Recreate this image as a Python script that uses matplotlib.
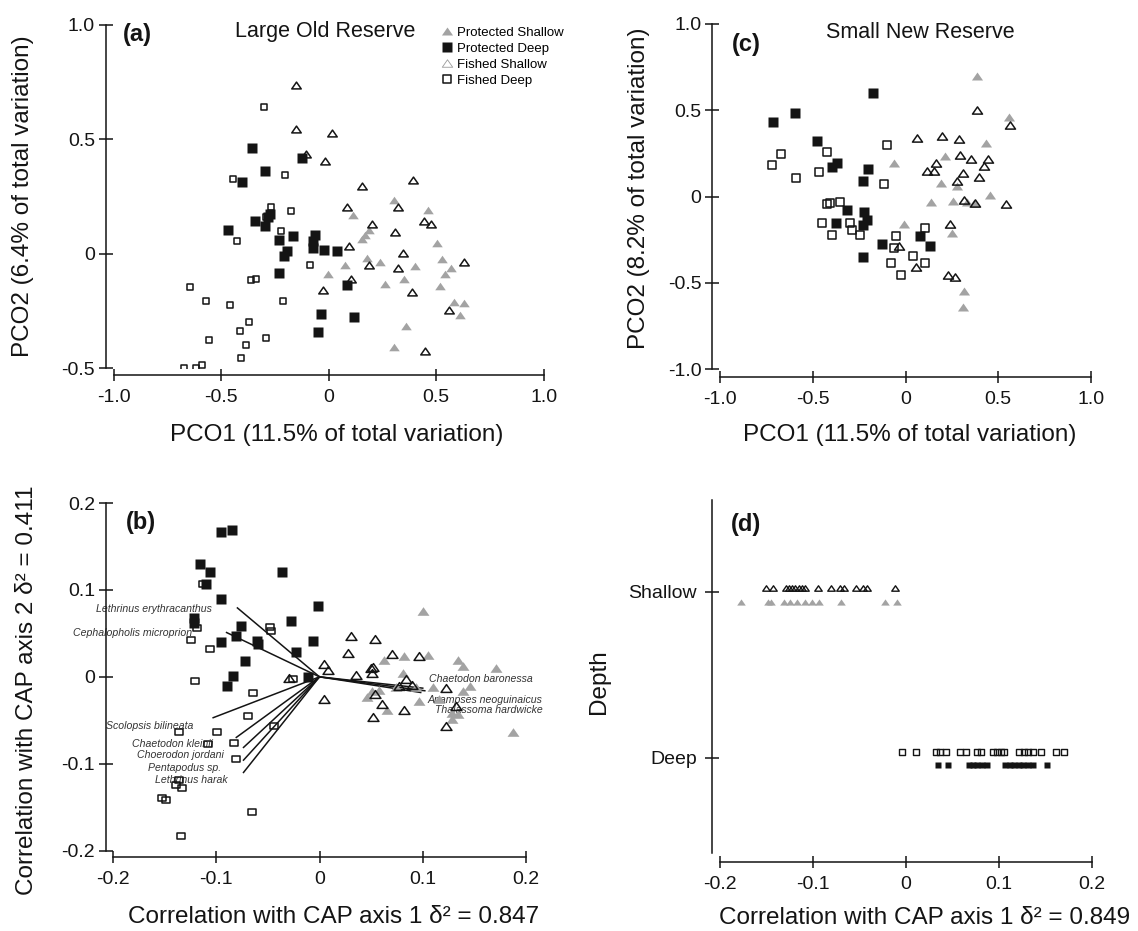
import matplotlib
matplotlib.use("Agg")
import matplotlib.pyplot as plt
from matplotlib.lines import Line2D
from matplotlib.path import Path

W, H, DPI = 1138, 931, 100
plt.rcParams["font.family"] = ["Liberation Sans", "DejaVu Sans"]

GREY = "#a3a3a3"
INK = "#141414"

# ---------------- (a) Large Old Reserve, PCO ----------------
a_ps_x = [0.305, 0.462, 0.113, 0.153, 0.169, 0.188, 0.502, 0.075, 0.179, 0.238, -0.003, 0.262,
          0.352, 0.399, 0.528, 0.568, 0.543, 0.518, 0.585, 0.628, 0.610, 0.360, 0.304]
a_ps_y = [0.233, 0.192, 0.170, 0.065, 0.084, 0.102, 0.047, -0.047, -0.017, -0.035, -0.090, -0.131,
          -0.110, -0.055, -0.022, -0.061, -0.090, -0.142, -0.211, -0.215, -0.266, -0.317, -0.407]
a_pd_x = [-0.357, -0.125, -0.299, -0.404, -0.274, -0.285, -0.344, -0.299, -0.470, -0.166, -0.233, -0.066,
          -0.073, -0.073, -0.194, -0.208, -0.023, 0.037, -0.234, 0.086, -0.037, 0.116, -0.050]
a_pd_y = [0.461, 0.419, 0.360, 0.313, 0.174, 0.160, 0.142, 0.121, 0.102, 0.078, 0.062, 0.083,
          0.055, 0.026, 0.012, -0.010, 0.017, 0.010, -0.084, -0.138, -0.265, -0.276, -0.342]
a_fs_x = [-0.154, -0.154, 0.017, -0.108, -0.017, 0.154, 0.394, 0.083, 0.324, 0.199, 0.444, 0.478,
          0.307, 0.095, 0.346, 0.186, 0.321, 0.628, 0.103, -0.028, 0.387, 0.560, 0.449]
a_fs_y = [0.738, 0.545, 0.526, 0.436, 0.403, 0.298, 0.320, 0.206, 0.203, 0.131, 0.142, 0.131,
          0.094, 0.036, 0.004, -0.047, -0.061, -0.036, -0.109, -0.160, -0.167, -0.247, -0.424]
a_fd_x = [-0.304, -0.444, -0.204, -0.271, -0.291, -0.178, -0.224, -0.429, -0.088, -0.362, -0.337, -0.648,
          -0.573, -0.460, -0.213, -0.370, -0.412, -0.560, -0.291, -0.387, -0.407, -0.676, -0.620, -0.590]
a_fd_y = [0.642, 0.327, 0.342, 0.203, 0.160, 0.186, 0.099, 0.054, -0.047, -0.113, -0.109, -0.145,
          -0.206, -0.225, -0.206, -0.298, -0.337, -0.375, -0.366, -0.397, -0.455, -0.497, -0.497, -0.484]

# ---------------- (c) Small New Reserve, PCO ----------------
c_ps_x = [0.387, 0.560, 0.435, 0.212, -0.065, 0.192, 0.278, 0.139, 0.258, 0.331, 0.454, -0.006,
          0.248, 0.315, 0.312, 0.371]
c_ps_y = [0.698, 0.462, 0.313, 0.237, 0.192, 0.079, 0.063, -0.033, -0.027, -0.033, 0.006, -0.158,
          -0.210, -0.546, -0.642, -0.037]
c_pd_x = [-0.175, -0.597, -0.716, -0.478, -0.369, -0.397, -0.204, -0.230, -0.317, -0.224, -0.377,
          -0.210, -0.230, -0.129, 0.079, 0.133, -0.230]
c_pd_y = [0.602, 0.483, 0.429, 0.323, 0.194, 0.169, 0.160, 0.088, -0.081, -0.090, -0.154,
          -0.138, -0.167, -0.277, -0.231, -0.288, -0.350]
c_fs_x = [0.387, 0.563, 0.063, 0.198, 0.286, 0.292, 0.351, 0.444, 0.163, 0.425, 0.113, 0.153,
          0.308, 0.395, 0.276, 0.315, 0.375, 0.544, 0.242, -0.036, 0.058, 0.228, 0.268]
c_fs_y = [0.500, 0.413, 0.342, 0.352, 0.333, 0.242, 0.217, 0.217, 0.194, 0.179, 0.146, 0.150,
          0.137, 0.115, 0.087, -0.019, -0.037, -0.046, -0.158, -0.288, -0.408, -0.456, -0.469]
c_fd_x = [-0.720, -0.675, -0.591, -0.423, -0.468, -0.099, -0.119, -0.423, -0.409, -0.353, -0.452,
          -0.397, -0.300, -0.288, -0.244, -0.052, -0.065, 0.103, 0.040, 0.103, -0.081, -0.026]
c_fd_y = [0.185, 0.246, 0.108, 0.256, 0.140, 0.300, 0.073, -0.042, -0.037, -0.029, -0.154,
          -0.221, -0.152, -0.192, -0.225, -0.229, -0.296, -0.181, -0.346, -0.383, -0.388, -0.456]

# ---------------- (b) CAP, Large Old Reserve ----------------
b_ps_x = [0.1007, 0.105, 0.082, 0.062, 0.134, 0.139, 0.171, 0.081, 0.110, 0.146, 0.139, 0.093,
          0.046, 0.051, 0.058, 0.065, 0.0965, 0.116, 0.128, 0.134, 0.128, 0.187, 0.074]
b_ps_y = [0.076, 0.025, 0.024, 0.019, 0.019, 0.013, 0.010, 0.004, -0.012, -0.010, -0.016, -0.012,
          -0.023, -0.016, -0.015, -0.038, -0.028, -0.025, -0.042, -0.043, -0.048, -0.064, -0.012]
b_pd_x = [-0.0955, -0.0851, -0.116, -0.106, -0.110, -0.0365, -0.0955, -0.001, -0.122, -0.122, -0.076,
          -0.028, -0.081, -0.061, -0.060, -0.0955, -0.0226, -0.006, -0.072, -0.084, -0.090, -0.011]
b_pd_y = [0.167, 0.169, 0.130, 0.121, 0.107, 0.121, 0.089, 0.082, 0.068, 0.062, 0.059,
          0.064, 0.047, 0.041, 0.038, 0.040, 0.029, 0.041, 0.018, 0.001, -0.010, 0.000]
b_fs_x = [0.0306, 0.054, 0.028, 0.070, 0.0965, 0.0045, 0.008, 0.035, 0.050, 0.052, 0.051, -0.0295,
          0.084, 0.077, 0.1226, 0.054, 0.061, 0.0045, 0.082, 0.132, 0.052, 0.1226, 0.0896]
b_fs_y = [0.047, 0.044, 0.028, 0.026, 0.024, 0.015, 0.008, 0.002, 0.010, 0.011, 0.005, -0.001,
          -0.002, -0.010, -0.013, -0.020, -0.031, -0.026, -0.038, -0.034, -0.046, -0.056, -0.009]
b_fd_x = [-0.1125, -0.0476, -0.047, -0.119, -0.124, -0.106, -0.121, -0.026, -0.064, -0.069, -0.044,
          -0.099, -0.136, -0.108, -0.083, -0.0806, -0.136, -0.139, -0.133, -0.153, -0.149, -0.065, -0.134]
b_fd_y = [0.107, 0.057, 0.053, 0.056, 0.042, 0.032, -0.005, -0.002, -0.019, -0.045, -0.056,
          -0.063, -0.064, -0.077, -0.076, -0.094, -0.119, -0.124, -0.128, -0.139, -0.142, -0.155, -0.183]

species = ["Lethrinus erythracanthus", "Cephalopholis microprion", "Scolopsis bilineata",
           "Chaetodon kleinii", "Choerodon jordani", "Pentapodus sp.", "Lethrinus harak",
           "Chaetodon baronessa", "Anampses neoguinaicus", "Thalassoma hardwicke"]
vec_x = [-0.0795, -0.090, -0.103, -0.0806, -0.0736, -0.0736, -0.0736, 0.100, 0.102, 0.098]
vec_y = [0.0793, 0.051, -0.047, -0.0697, -0.0812, -0.0958, -0.110, -0.013, -0.016, -0.018]
# where each species name sits (left edge, centre line), in axis units
label_at = [(-0.216, 0.0776), (-0.239, 0.050), (-0.207, -0.0564), (-0.182, -0.0774),
            (-0.177, -0.090), (-0.166, -0.1054), (-0.159, -0.119),
            (0.1056, -0.0026), (0.105, -0.0268), (0.112, -0.0383)]

# ---------------- (d) CAP, Small New Reserve ----------------
depth_levels = ["Deep", "Shallow"]
d_fs_x = [-0.1507, -0.1436, -0.1299, -0.1264, -0.1227, -0.1192, -0.1156, -0.1119, -0.1084, -0.0952,
          -0.0812, -0.0707, -0.0664, -0.0535, -0.0467, -0.0420, -0.0118]
d_ps_x = [-0.1777, -0.1487, -0.1452, -0.1313, -0.1253, -0.1174, -0.1094, -0.1010, -0.0935, -0.0706,
          -0.0229, -0.0102]
d_fd_x = [-0.004, 0.0107, 0.0317, 0.0364, 0.0424, 0.0582, 0.0642, 0.0760, 0.0808, 0.0939, 0.0978,
          0.1018, 0.1057, 0.1216, 0.1267, 0.1315, 0.1362, 0.1453, 0.1612, 0.1703]
d_pd_x = [0.0345, 0.0455, 0.0673, 0.0721, 0.0768, 0.0820, 0.0867, 0.1061, 0.1113, 0.1164, 0.1216,
          0.1263, 0.1315, 0.1362, 0.1513]

groups = ["Protected Shallow", "Protected Deep", "Fished Shallow", "Fished Deep"]


def closed(verts):
    return Path(verts + [verts[0]], closed=True)


TRI = closed([(-1, -0.72), (1, -0.72), (0, 0.72)])
BOX = closed([(-1, -1), (1, -1), (1, 1), (-1, 1)])
RECT = closed([(-1, -0.78), (1, -0.78), (1, 0.78), (-1, 0.78)])


def px(x, y):
    return x / W, 1 - y / H


def frame(ax, left_off, bottom_off):
    for s in ("top", "right"):
        ax.spines[s].set_visible(False)
    ax.spines["left"].set_position(("outward", left_off * 0.72))
    ax.spines["bottom"].set_position(("outward", bottom_off * 0.72))
    for s in ("left", "bottom"):
        ax.spines[s].set_linewidth(1.1)
        ax.spines[s].set_color(INK)
    ax.tick_params(axis="x", direction="inout", length=8, width=1.1, pad=6,
                   labelsize=14, colors=INK)
    ax.tick_params(axis="y", direction="inout", length=10, width=1.1, pad=3,
                   labelsize=14, colors=INK)
    ax.patch.set_visible(False)


def scatter4(ax, ps, pd, fs, fd, sz):
    # sz: (filled square, open square, grey triangle, open triangle[, open-square shape])
    fd_marker = sz[4] if len(sz) > 4 else BOX
    ax.plot(*fd, ls="none", marker=fd_marker, ms=sz[1], mfc="none", mec=INK, mew=1.1)
    ax.plot(*pd, ls="none", marker=BOX, ms=sz[0], mfc=INK, mec="none")
    ax.plot(*ps, ls="none", marker=TRI, ms=sz[2], mfc=GREY, mec="none")
    ax.plot(*fs, ls="none", marker=TRI, ms=sz[3], mfc="none", mec=INK, mew=1.1)


fig = plt.figure(figsize=(W / DPI, H / DPI), dpi=DPI)


def axes_px(x0, x1, y_top, y_bot):
    return fig.add_axes([x0 / W, 1 - y_bot / H, (x1 - x0) / W, (y_bot - y_top) / H])


ax_a = axes_px(114, 543.6, 24.7, 368.3)
ax_c = axes_px(720.4, 1090.8, 24.0, 369.0)
ax_b = axes_px(113, 526, 503, 850.7)
ax_d = axes_px(720.4, 1091.9, 500, 853)

# (a)
scatter4(ax_a, (a_ps_x, a_ps_y), (a_pd_x, a_pd_y), (a_fs_x, a_fs_y), (a_fd_x, a_fd_y),
         (6.6, 5.0, 7.6, 6.8))
ax_a.set_xlim(-1, 1)
ax_a.set_ylim(-0.5, 1.0)
ax_a.set_xticks([-1.0, -0.5, 0, 0.5, 1.0], ["-1.0", "-0.5", "0", "0.5", "1.0"])
ax_a.set_yticks([-0.5, 0, 0.5, 1.0], ["-0.5", "0", "0.5", "1.0"])
frame(ax_a, 8, 7)

handles = [
    Line2D([], [], ls="none", marker=TRI, ms=8, mfc=GREY, mec="none"),
    Line2D([], [], ls="none", marker=BOX, ms=6.5, mfc=INK, mec="none"),
    Line2D([], [], ls="none", marker=TRI, ms=7.5, mfc="none", mec="#9a9a9a", mew=0.6),
    Line2D([], [], ls="none", marker=BOX, ms=5.2, mfc="none", mec=INK, mew=1.1),
]
ax_a.legend(handles, groups, loc="upper left", bbox_to_anchor=px(442, 26.5),
            bbox_transform=fig.transFigure, frameon=False, fontsize=9.5,
            handlelength=0.8, handletextpad=0.35, labelspacing=0.28,
            borderpad=0, borderaxespad=0)

# (c)
scatter4(ax_c, (c_ps_x, c_ps_y), (c_pd_x, c_pd_y), (c_fs_x, c_fs_y), (c_fd_x, c_fd_y),
         (6.8, 5.2, 8.0, 7.2))
ax_c.set_xlim(-1, 1)
ax_c.set_ylim(-1, 1)
ax_c.set_xticks([-1.0, -0.5, 0, 0.5, 1.0], ["-1.0", "-0.5", "0", "0.5", "1.0"])
ax_c.set_yticks([-1.0, -0.5, 0, 0.5, 1.0], ["-1.0", "-0.5", "0", "0.5", "1.0"])
frame(ax_c, 8, 7.7)

# (b) biplot: species vectors from the origin, names sit under the samples
for (vx, vy) in zip(vec_x, vec_y):
    ax_b.plot([0, vx], [0, vy], color=INK, lw=1.1)
scatter4(ax_b, (b_ps_x, b_ps_y), (b_pd_x, b_pd_y), (b_fs_x, b_fs_y), (b_fd_x, b_fd_y),
         (7.4, 6.2, 8.6, 7.8, RECT))
for name, (lx, ly) in zip(species, label_at):
    ax_b.text(lx, ly, name, fontsize=7.6, style="italic", color="#333333",
              ha="left", va="center", zorder=1)
ax_b.set_xlim(-0.2, 0.2)
ax_b.set_ylim(-0.2, 0.2)
ax_b.set_xticks([-0.2, -0.1, 0, 0.1, 0.2], ["-0.2", "-0.1", "0", "0.1", "0.2"])
ax_b.set_yticks([-0.2, -0.1, 0, 0.1, 0.2], ["-0.2", "-0.1", "0", "0.1", "0.2"])
frame(ax_b, 7, 6)

# (d): each depth row is split, fished above and protected below
row = {lvl: i + 1 for i, lvl in enumerate(depth_levels)}
ax_d.plot(d_fs_x, [row["Shallow"] + 0.025] * len(d_fs_x), ls="none", marker=TRI, ms=5.4,
          mfc="none", mec=INK, mew=1.0)
ax_d.plot(d_ps_x, [row["Shallow"] - 0.06] * len(d_ps_x), ls="none", marker=TRI, ms=6.2,
          mfc=GREY, mec="none")
ax_d.plot(d_fd_x, [row["Deep"] + 0.036] * len(d_fd_x), ls="none", marker=BOX, ms=4.0,
          mfc="none", mec=INK, mew=1.0)
ax_d.plot(d_pd_x, [row["Deep"] - 0.045] * len(d_pd_x), ls="none", marker=BOX, ms=4.8,
          mfc=INK, mec="none")
ax_d.set_xlim(-0.2, 0.2)
ax_d.set_ylim(0.426, 2.552)
ax_d.set_xticks([-0.2, -0.1, 0, 0.1, 0.2], ["-0.2", "-0.1", "0", "0.1", "0.2"])
ax_d.set_yticks([row[l] for l in depth_levels], depth_levels)
frame(ax_d, 8, 8.7)
ax_d.tick_params(axis="y", pad=6)

# texts
lab = dict(fontsize=17.5, color=INK, ha="center", va="center")
fig.text(*px(23, 196), "PCO2 (6.4% of total variation)", rotation=90, **lab)
fig.text(*px(639, 188), "PCO2 (8.2% of total variation)", rotation=90, **lab)
fig.text(*px(27, 690), "Correlation with CAP axis 2 \u03b4\u00b2 = 0.411", rotation=90, **lab)
fig.text(*px(599, 682), "Depth", rotation=90, **lab)
fig.text(*px(337, 435), "PCO1 (11.5% of total variation)", **lab)
fig.text(*px(910, 435), "PCO1 (11.5% of total variation)", **lab)
fig.text(*px(334, 917), "Correlation with CAP axis 1 \u03b4\u00b2 = 0.847", **lab)
fig.text(*px(925, 918), "Correlation with CAP axis 1 \u03b4\u00b2 = 0.849", **lab)

fig.text(*px(325, 32), "Large Old Reserve", fontsize=15.5, color=INK, ha="center", va="center")
fig.text(*px(920, 32), "Small New Reserve", fontsize=15.5, color=INK, ha="center", va="center")

pan = dict(fontsize=17, fontweight="bold", color=INK, ha="center", va="center")
fig.text(*px(137, 35), "(a)", **pan)
fig.text(*px(746, 45), "(c)", **pan)
fig.text(*px(141, 523), "(b)", **pan)
fig.text(*px(746, 525), "(d)", **pan)

fig.savefig("out.png", dpi=DPI, facecolor="white")
